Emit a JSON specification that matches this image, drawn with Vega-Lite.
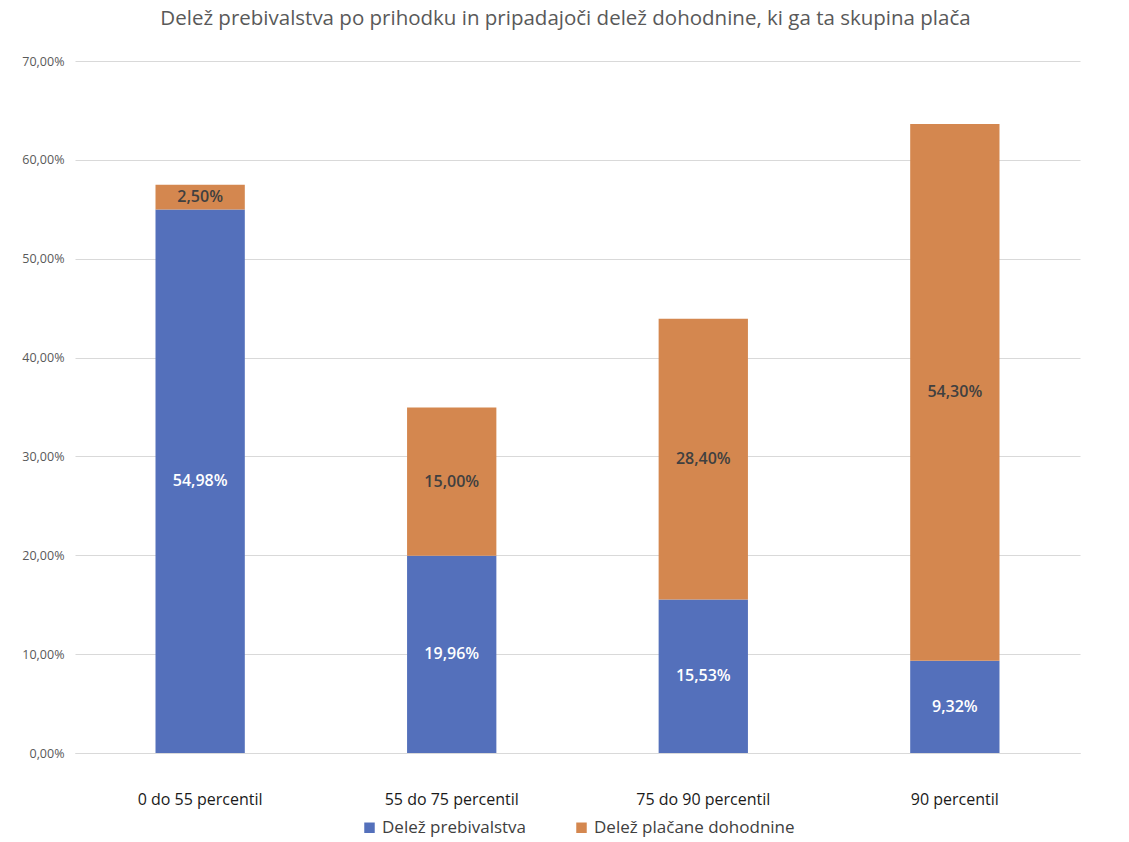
{
  "$schema": "https://vega.github.io/schema/vega-lite/v6.json",
  "autosize": {"type": "none"},
  "width": 1005,
  "height": 692,
  "padding": {"left": 75, "top": 61, "right": 49, "bottom": 89},
  "background": "white",
  "config": {
    "view": {"stroke": null},
    "legend": {"layout": {"bottom": {"anchor": "middle"}}},
    "locale": {
      "number": {"decimal": ",", "thousands": ".", "grouping": [3], "currency": ["", " €"]}
    }
  },
  "title": {
    "text": "Delež prebivalstva po prihodku in pripadajoči delež dohodnine, ki ga ta skupina plača",
    "font": "Open Sans",
    "fontSize": 20.5,
    "fontWeight": "normal",
    "color": "#595959",
    "offset": 26,
    "dx": -12
  },
  "data": {
    "values": [
      {"skupina": "0 do 55 percentil", "serija": "Delež prebivalstva", "red": 1, "delez": 0.5498},
      {"skupina": "0 do 55 percentil", "serija": "Delež plačane dohodnine", "red": 2, "delez": 0.0250},
      {"skupina": "55 do 75 percentil", "serija": "Delež prebivalstva", "red": 1, "delez": 0.1996},
      {"skupina": "55 do 75 percentil", "serija": "Delež plačane dohodnine", "red": 2, "delez": 0.1500},
      {"skupina": "75 do 90 percentil", "serija": "Delež prebivalstva", "red": 1, "delez": 0.1553},
      {"skupina": "75 do 90 percentil", "serija": "Delež plačane dohodnine", "red": 2, "delez": 0.2840},
      {"skupina": "90 percentil", "serija": "Delež prebivalstva", "red": 1, "delez": 0.0932},
      {"skupina": "90 percentil", "serija": "Delež plačane dohodnine", "red": 2, "delez": 0.5430}
    ]
  },
  "transform": [
    {"stack": "delez", "groupby": ["skupina"], "sort": [{"field": "red"}], "as": ["od", "do"]}
  ],
  "encoding": {
    "x": {
      "field": "skupina",
      "type": "nominal",
      "title": null,
      "sort": null,
      "scale": {"paddingInner": 0.645, "paddingOuter": 0.32},
      "axis": {
        "labelAngle": 0,
        "labelFont": "Open Sans",
        "labelFontSize": 16,
        "labelColor": "#1a1a1a",
        "labelPadding": 38,
        "ticks": false,
        "domainColor": "#d9d9d9"
      }
    }
  },
  "layer": [
    {
      "mark": {"type": "bar"},
      "encoding": {
        "y": {
          "field": "od",
          "type": "quantitative",
          "title": null,
          "scale": {"domain": [0, 0.7]},
          "axis": {
            "values": [0, 0.1, 0.2, 0.3, 0.4, 0.5, 0.6, 0.7],
            "format": ".2%",
            "labelFont": "Open Sans",
            "labelFontSize": 12.5,
            "labelColor": "#595959",
            "labelPadding": 11,
            "ticks": false,
            "domain": false,
            "gridColor": "#d9d9d9"
          }
        },
        "y2": {"field": "do"},
        "color": {
          "field": "serija",
          "type": "nominal",
          "scale": {
            "domain": ["Delež prebivalstva", "Delež plačane dohodnine"],
            "range": ["#5470bb", "#d4874f"]
          },
          "legend": {
            "orient": "bottom",
            "title": null,
            "direction": "horizontal",
            "symbolType": "square",
            "symbolSize": 110,
            "labelFont": "Open Sans",
            "labelFontSize": 17,
            "labelColor": "#404040",
            "labelLimit": 0,
            "offset": 12,
            "columnPadding": 46
          }
        }
      }
    },
    {
      "transform": [
        {"fold": ["od", "do"], "as": ["rob", "meja"]}
      ],
      "mark": {"type": "text", "font": "Open Sans", "fontSize": 16, "fontWeight": 600, "baseline": "middle"},
      "encoding": {
        "y": {"field": "meja", "aggregate": "mean", "type": "quantitative"},
        "detail": {"field": "serija"},
        "text": {"field": "delez", "aggregate": "max", "type": "quantitative", "format": ".2%"},
        "color": {
          "condition": {"test": "datum.serija === 'Delež prebivalstva'", "value": "white"},
          "value": "#404040"
        }
      }
    }
  ]
}
